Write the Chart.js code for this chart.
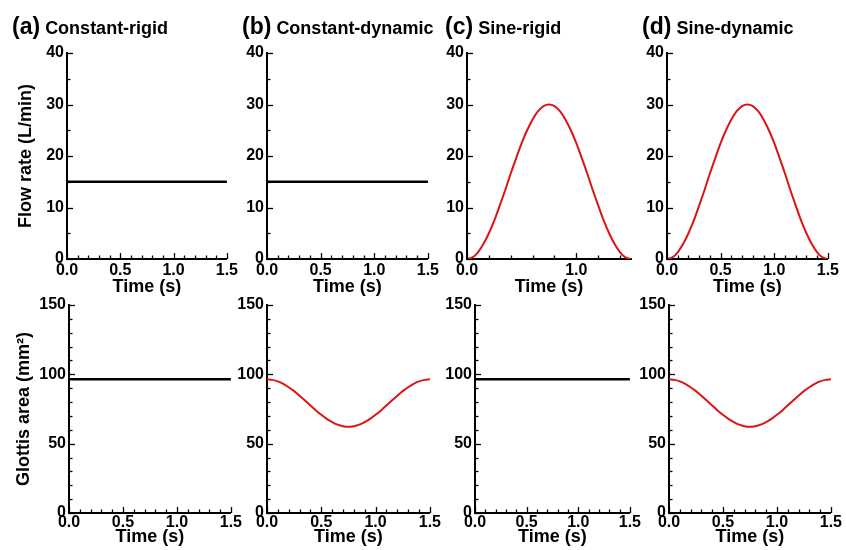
<!DOCTYPE html>
<html>
<head>
<meta charset="utf-8">
<script src="https://cdn.jsdelivr.net/npm/chart.js@4.4.1/dist/chart.umd.min.js"></script>
<style>
    body { margin: 0; background: #fff; width: 846px; height: 550px; overflow: hidden; position: relative; font-family: 'Liberation Sans', Arial, sans-serif; }
    canvas { position: absolute; }
    .ttl { position: absolute; font-weight: bold; font-size: 23px; line-height: 23px; white-space: nowrap; color: #000; }
    .ttl span { font-size: 18px; margin-left: 5px; }
</style>
</head>
<body>
<script>
// time axis samples (s)
const timeS = [0, 0.05, 0.1, 0.15, 0.2, 0.25, 0.3, 0.35, 0.4, 0.45, 0.5, 0.55, 0.6, 0.65, 0.7, 0.75,
    0.8, 0.85, 0.9, 0.95, 1.0, 1.05, 1.1, 1.15, 1.2, 1.25, 1.3, 1.35, 1.4, 1.45, 1.5];
const constTime = [0, 1.5];

// flow rate (L/min)
const flowConstant = [15, 15];
const flowSine = [0, 0.3, 1.3, 2.9, 5.0, 7.5, 10.4, 13.4, 16.6, 19.6, 22.5, 25.0, 27.1, 28.7, 29.7, 30,
    29.7, 28.7, 27.1, 25.0, 22.5, 19.6, 16.6, 13.4, 10.4, 7.5, 5.0, 2.9, 1.3, 0.3, 0];

// glottis area (mm^2)
const areaRigid = [96.5, 96.5];
const areaDynamic = [96.4, 96.0, 94.9, 93.1, 90.7, 87.9, 84.6, 81.1, 77.5, 74.0, 70.8, 67.9, 65.5, 63.7, 62.6, 62.2,
    62.6, 63.7, 65.5, 67.9, 70.8, 74.0, 77.5, 81.1, 84.6, 87.9, 90.7, 93.1, 94.9, 96.0, 96.4];

// tick labels
const flowTicks = [0, 10, 20, 30, 40];
const areaTicks = [0, 50, 100, 150];
const timeTicks = [0, 0.5, 1.0, 1.5];
const timeTicksSparse = [0, 1.0];

const panelLetters = ['(a)', '(b)', '(c)', '(d)'];
const panelNames = ['Constant-rigid', 'Constant-dynamic', 'Sine-rigid', 'Sine-dynamic'];

const BLACK = '#000000';
const RED = '#dc1414';

Chart.defaults.font.family = "'Liberation Sans', Arial, sans-serif";
Chart.defaults.font.weight = 'bold';
Chart.defaults.color = '#000';

function xy(xs, ys) {
    return xs.map((x, i) => ({ x: x, y: ys[i] }));
}

// small inward tick marks, major ones a bit longer
const tickMarks = {
    id: 'tickMarks',
    afterDraw(chart, args, opts) {
        const ctx = chart.ctx;
        const a = chart.chartArea;
        const xs = chart.scales.x, ys = chart.scales.y;
        ctx.save();
        ctx.strokeStyle = '#000';
        ctx.lineWidth = 1.3;
        for (let i = 0; ; i++) {
            const v = xs.min + i * opts.xStep;
            if (v > xs.max + 1e-9) break;
            const major = opts.xMajor.some(m => Math.abs(m - v) < 1e-9);
            const px = Math.round(xs.getPixelForValue(v)) + 0.5;
            ctx.beginPath();
            ctx.moveTo(px, a.bottom);
            ctx.lineTo(px, a.bottom - (major ? 6 : 3.5));
            ctx.stroke();
        }
        for (let i = 0; ; i++) {
            const v = ys.min + i * opts.yStep;
            if (v > ys.max + 1e-9) break;
            const major = opts.yMajor.some(m => Math.abs(m - v) < 1e-9);
            const py = Math.round(ys.getPixelForValue(v)) + 0.5;
            ctx.beginPath();
            ctx.moveTo(a.left, py);
            ctx.lineTo(a.left + (major ? 6 : 3.5), py);
            ctx.stroke();
        }
        ctx.restore();
    }
};

function makePanel(p) {
    const canvas = document.createElement('canvas');
    const w = (p.right - p.left) + 67 + 9;
    const h = p.row === 0 ? 300 : 260;
    canvas.width = w;
    canvas.height = h;
    canvas.style.left = (p.left - 67) + 'px';
    canvas.style.top = (p.row === 0 ? 0 : 290) + 'px';
    document.body.appendChild(canvas);

    new Chart(canvas.getContext('2d'), {
        type: 'line',
        data: {
            datasets: [{
                data: xy(p.xs, p.ys),
                borderColor: p.color,
                borderWidth: p.color === BLACK ? 2.5 : 2,
                pointRadius: 0,
                tension: 0.4,
                cubicInterpolationMode: 'monotone',
                fill: false
            }]
        },
        options: {
            responsive: false,
            animation: false,
            devicePixelRatio: 1,
            layout: { autoPadding: false, padding: { left: 0, right: 9, top: p.row === 0 ? 53 : 15, bottom: 0 } },
            plugins: {
                legend: { display: false },
                tooltip: { enabled: false },
                tickMarks: {
                    xStep: p.xMinor, xMajor: p.xTicks,
                    yStep: p.yMinor, yMajor: p.yTicks
                }
            },
            scales: {
                x: {
                    type: 'linear',
                    min: 0,
                    max: 1.5,
                    grid: { display: false, drawTicks: false },
                    border: { display: true, color: '#000', width: 2 },
                    afterBuildTicks: s => { s.ticks = p.xTicks.map(v => ({ value: v })); },
                    afterFit: s => { s.height = p.row === 0 ? 41 : 37; },
                    ticks: {
                        padding: p.row === 0 ? 2 : 0,
                        maxRotation: 0,
                        autoSkip: false,
                        font: { size: 16, weight: 'bold' },
                        callback: v => Number(v).toFixed(1)
                    },
                    title: {
                        display: true,
                        text: 'Time (s)',
                        font: { size: 18, weight: 'bold' },
                        padding: { top: 0, bottom: p.row === 0 ? 2.5 : 2 }
                    }
                },
                y: {
                    type: 'linear',
                    min: 0,
                    max: p.yMax,
                    grid: { display: false, drawTicks: false },
                    border: { display: true, color: '#000', width: 2 },
                    afterBuildTicks: s => { s.ticks = p.yTicks.map(v => ({ value: v })); },
                    afterFit: s => { s.width = 67; },
                    ticks: {
                        padding: 3,
                        autoSkip: false,
                        font: { size: 16, weight: 'bold' }
                    },
                    title: {
                        display: !!p.yTitle,
                        text: p.yTitle || '',
                        font: { size: 18, weight: 'bold' },
                        padding: { top: p.row === 0 ? 15 : 11, bottom: 0 }
                    }
                }
            }
        },
        plugins: [tickMarks]
    });
}

const topLeft = [67, 267, 467, 667], topRight = [231, 432, 631, 832];
const botLeft = [69, 267, 475, 669], botRight = [233, 432, 632, 833];

const panels = [
    { row: 0, col: 0, xs: constTime, ys: flowConstant, color: BLACK, xTicks: timeTicks, xMinor: 0.1 },
    { row: 0, col: 1, xs: constTime, ys: flowConstant, color: BLACK, xTicks: timeTicks, xMinor: 0.1 },
    { row: 0, col: 2, xs: timeS, ys: flowSine, color: RED, xTicks: timeTicksSparse, xMinor: 0.2 },
    { row: 0, col: 3, xs: timeS, ys: flowSine, color: RED, xTicks: timeTicks, xMinor: 0.1 },
    { row: 1, col: 0, xs: constTime, ys: areaRigid, color: BLACK, xTicks: timeTicks, xMinor: 0.1 },
    { row: 1, col: 1, xs: timeS, ys: areaDynamic, color: RED, xTicks: timeTicks, xMinor: 0.1 },
    { row: 1, col: 2, xs: constTime, ys: areaRigid, color: BLACK, xTicks: timeTicks, xMinor: 0.1 },
    { row: 1, col: 3, xs: timeS, ys: areaDynamic, color: RED, xTicks: timeTicks, xMinor: 0.1 }
];

panels.forEach(p => {
    const top = p.row === 0;
    p.left = top ? topLeft[p.col] : botLeft[p.col];
    p.right = top ? topRight[p.col] : botRight[p.col];
    p.yMax = top ? 40 : 150;
    p.yTicks = top ? flowTicks : areaTicks;
    p.yMinor = top ? 5 : 10;
    if (p.col === 0) p.yTitle = top ? 'Flow rate (L/min)' : 'Glottis area (mm\u00B2)';
    makePanel(p);
});

// panel headings
const titleLeft = [12, 242, 445, 642];
panelLetters.forEach((letter, i) => {
    const d = document.createElement('div');
    d.className = 'ttl';
    d.style.left = titleLeft[i] + 'px';
    d.style.top = '15px';
    d.innerHTML = letter + '<span>' + panelNames[i] + '</span>';
    document.body.appendChild(d);
});
</script>
</body>
</html>
